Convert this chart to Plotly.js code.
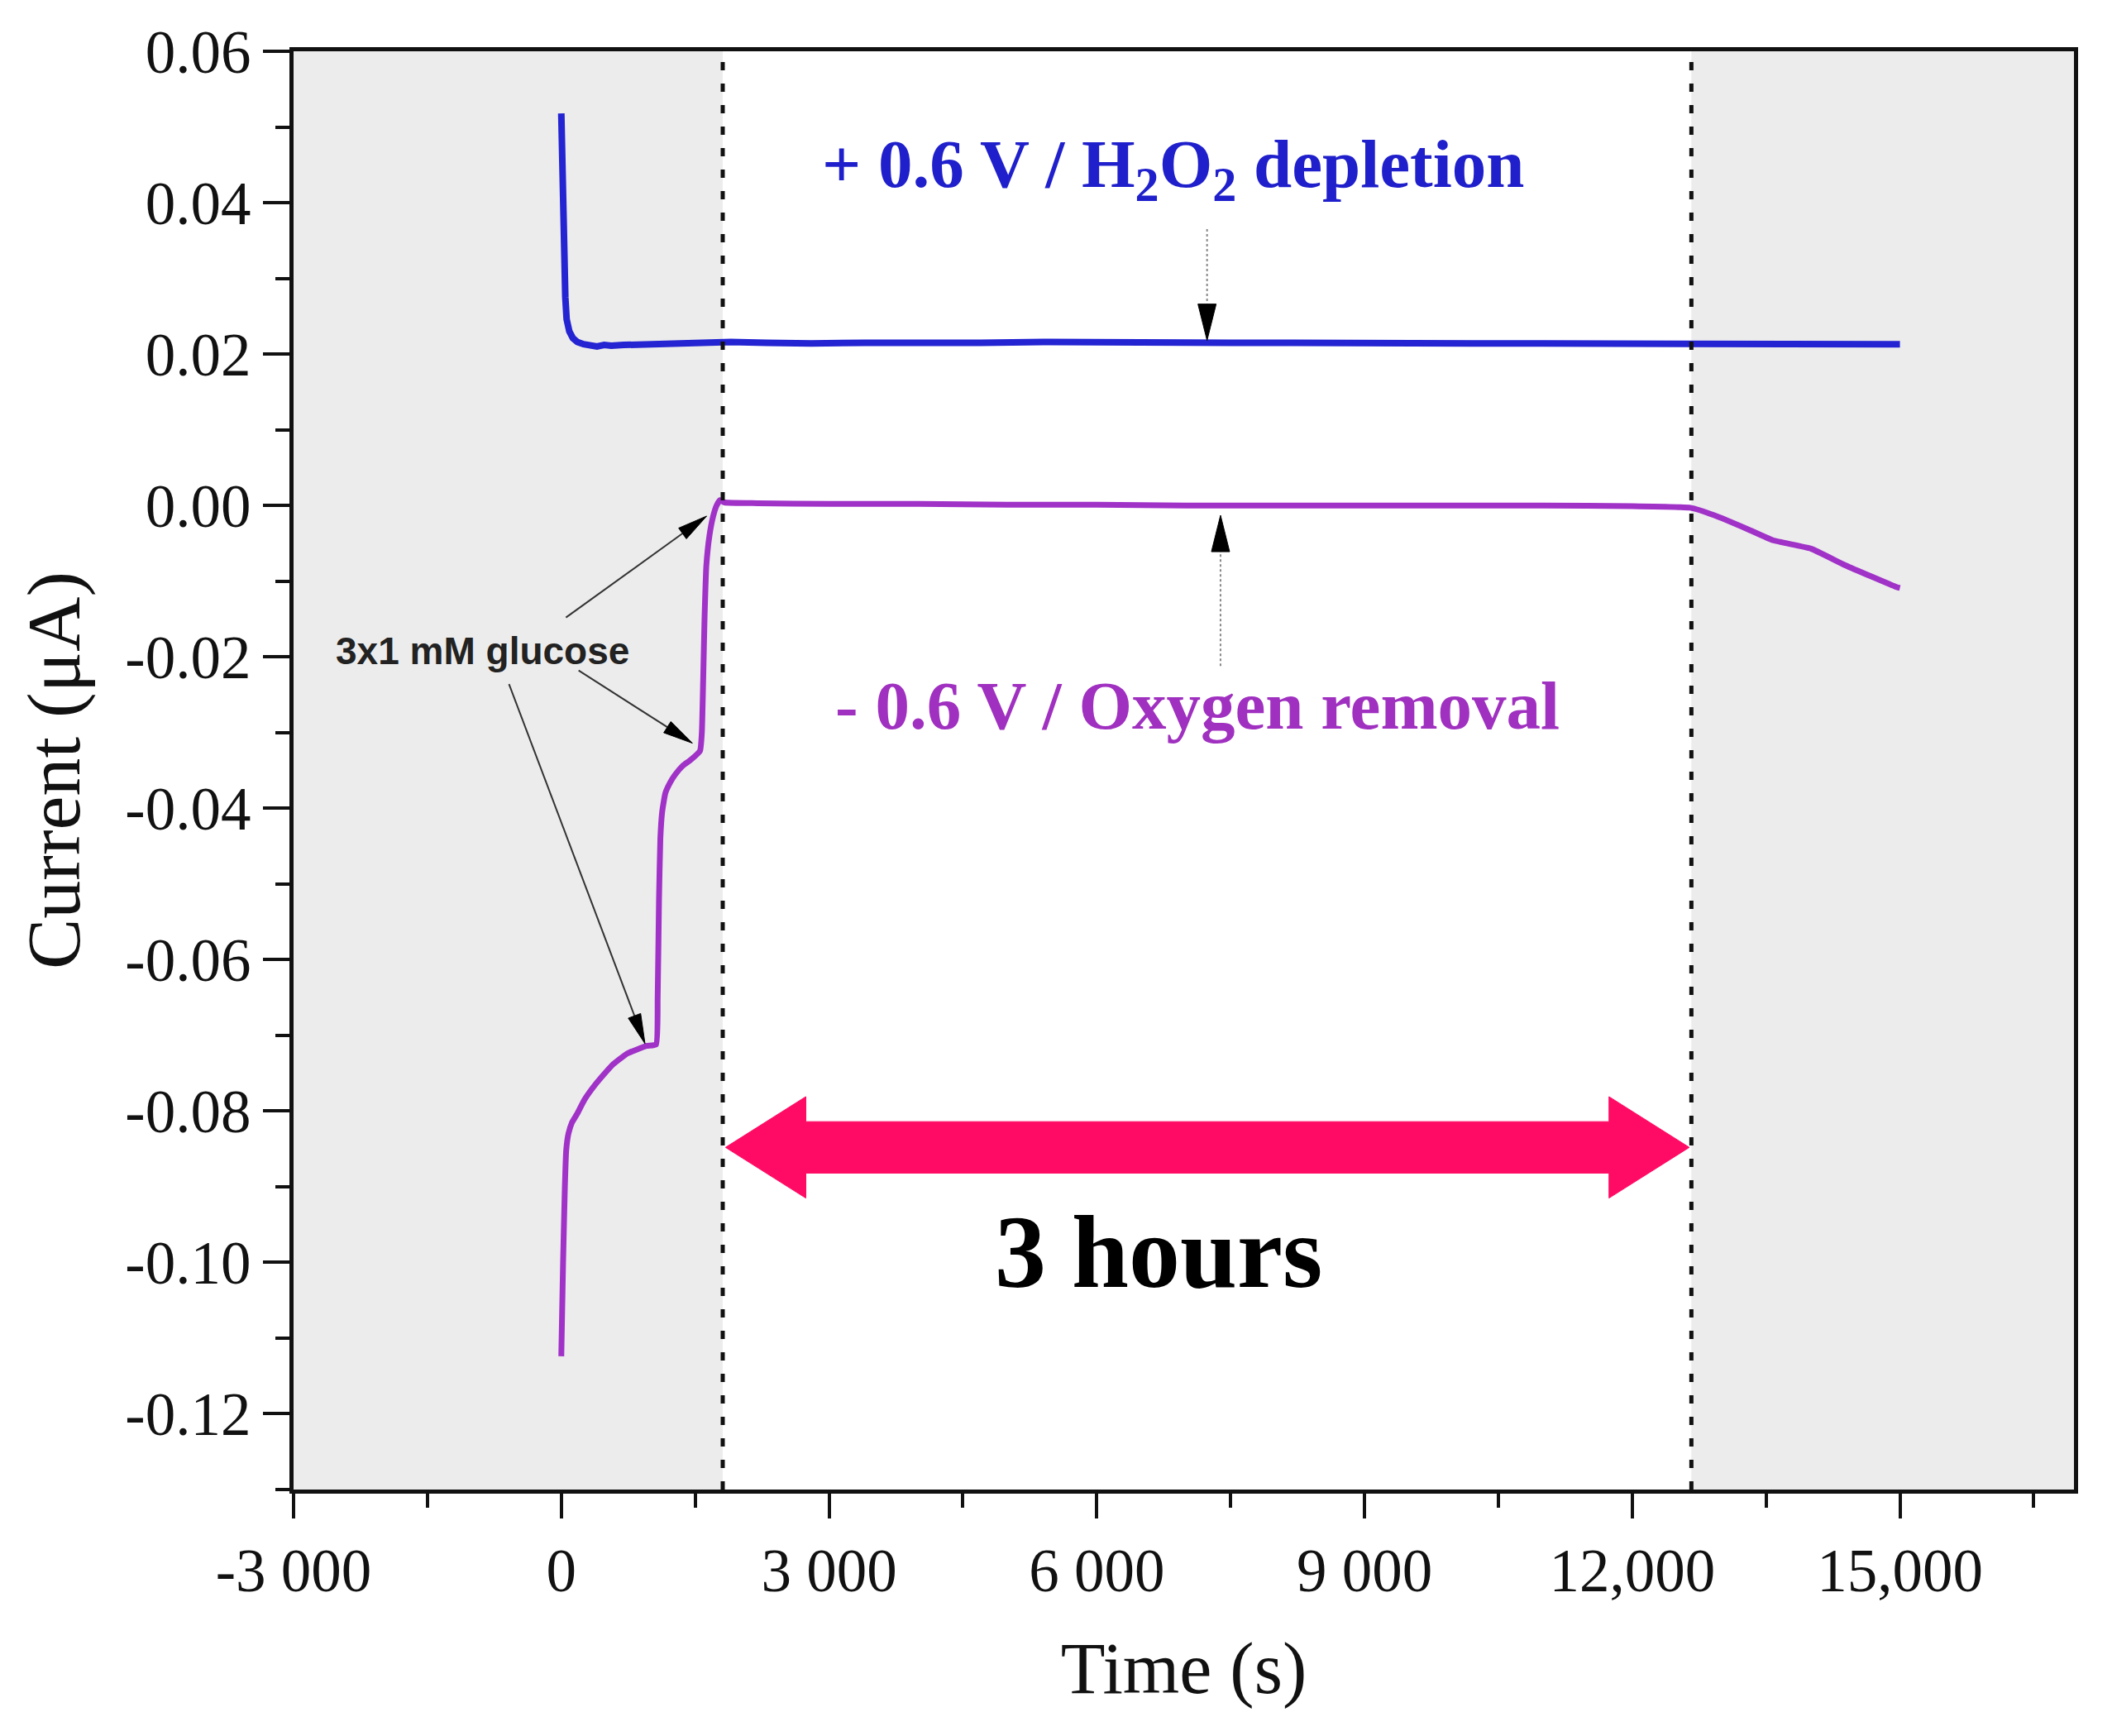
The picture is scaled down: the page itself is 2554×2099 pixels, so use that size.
<!DOCTYPE html>
<html>
<head>
<meta charset="utf-8">
<script src="https://cdn.plot.ly/plotly-3.0.1.min.js"></script>
<style>html,body{margin:0;padding:0;background:#fff;}#chart{width:2554px;height:2099px;}</style>
</head>
<body>
<div id="chart"></div>
<script>
// ---------------- data ----------------
const blueTime = [0, 10, 20, 30, 45, 60, 90, 130, 180, 250, 320, 400, 480, 560, 700, 900, 1100, 1400, 1700, 1900, 2300, 2800, 3400, 4000, 4700, 5400, 6100, 6800, 7500, 8200, 8900, 9600, 10300, 11000, 11700, 12400, 12900, 13500, 14100, 14600, 15000];
const blueCurrent = [0.0518, 0.0450, 0.0385, 0.0325, 0.0275, 0.0246, 0.0230, 0.0221, 0.0216, 0.0213, 0.0211, 0.0210, 0.0212, 0.0211, 0.0212, 0.0213, 0.0212, 0.0214, 0.0215, 0.0216, 0.0215, 0.0214, 0.0215, 0.0214, 0.0215, 0.0216, 0.0215, 0.0214, 0.0215, 0.0215, 0.0214, 0.0215, 0.0214, 0.0214, 0.0214, 0.0213, 0.0214, 0.0213, 0.0213, 0.0212, 0.0213];

const purpleTime = [0, 20, 40, 55, 80, 120, 176, 260, 388, 565, 740, 953, 1062, 1080, 1095, 1110, 1130, 1166, 1220, 1273, 1360, 1451, 1555, 1575, 1590, 1605, 1625, 1660, 1700, 1740, 1780, 1830, 2200, 3000, 4000, 5000, 6000, 7000, 8000, 9000, 10000, 11000, 12000, 12651, 12920, 13307, 13577, 14003, 14388, 14966, 15000];
const purpleCurrent = [-0.1124, -0.1000, -0.0900, -0.0852, -0.0830, -0.0815, -0.0804, -0.0785, -0.0764, -0.0740, -0.0724, -0.0714, -0.0712, -0.0650, -0.0520, -0.0440, -0.0405, -0.0380, -0.0366, -0.0356, -0.0344, -0.0336, -0.0324, -0.0300, -0.0230, -0.0150, -0.0080, -0.0040, -0.0015, 0.0000, 0.0007, 0.0004, 0.0003, 0.0002, 0.0002, 0.0001, 0.0001, 0.0000, 0.0000, 0.0000, 0.0000, 0.0000, -0.0001, -0.0003, -0.0013, -0.0032, -0.0046, -0.0057, -0.0079, -0.0108, -0.0109];

const xTickVals = [-3000, 0, 3000, 6000, 9000, 12000, 15000];
const xTickText = ['-3 000', '0', '3 000', '6 000', '9 000', '12,000', '15,000'];
const xMinorVals = [-1500, 1500, 4500, 7500, 10500, 13500, 16500];
const yTickVals = [0.06, 0.04, 0.02, 0.00, -0.02, -0.04, -0.06, -0.08, -0.10, -0.12];
const yTickText = ['0.06', '0.04', '0.02', '0.00', '-0.02', '-0.04', '-0.06', '-0.08', '-0.10', '-0.12'];
const yMinorVals = [0.05, 0.03, 0.01, -0.01, -0.03, -0.05, -0.07, -0.09, -0.11, -0.13];

// window of the 3-hour measurement (s)
const windowStart = 1809;
const windowEnd = 12663;
// ---------------- geometry ----------------
const W = 2554, H = 2099;
const M = {l: 355, r: 46, t: 62, b: 298};
const XR = [-3000, 16950], YR = [-0.13, 0.06];
const pxX = (W - M.l - M.r) / (XR[1] - XR[0]);
const pxY = (H - M.t - M.b) / (YR[1] - YR[0]);

function arrow(x0, y0, x1, y1, headLen, headW, color, lw, dash) {
  const dx = (x1 - x0) * pxX, dy = (y1 - y0) * pxY;
  const L = Math.hypot(dx, dy), ux = dx / L, uy = dy / L;
  const nx = -uy, ny = ux;
  const bx = x1 - ux * headLen / pxX, by = y1 - uy * headLen / pxY;
  const p1x = bx + nx * headW / 2 / pxX, p1y = by + ny * headW / 2 / pxY;
  const p2x = bx - nx * headW / 2 / pxX, p2y = by - ny * headW / 2 / pxY;
  return [
    {type: 'line', xref: 'x', yref: 'y', x0: x0, y0: y0, x1: bx, y1: by,
     line: {color: color, width: lw, dash: dash || 'solid'}, layer: 'above'},
    {type: 'path', xref: 'x', yref: 'y',
     path: `M${x1},${y1} L${p1x},${p1y} L${p2x},${p2y} Z`,
     fillcolor: '#000', line: {color: '#000', width: 1}, layer: 'above'}
  ];
}

// pink double arrow
const bigArrow = {left: 1840, right: 12640, y: -0.0848, head: 900, body: 0.0034, headHalf: 0.0067};
const ba = bigArrow;
const bigPath = `M${ba.left},${ba.y} L${ba.left + ba.head},${ba.y + ba.headHalf} L${ba.left + ba.head},${ba.y + ba.body} ` +
  `L${ba.right - ba.head},${ba.y + ba.body} L${ba.right - ba.head},${ba.y + ba.headHalf} L${ba.right},${ba.y} ` +
  `L${ba.right - ba.head},${ba.y - ba.headHalf} L${ba.right - ba.head},${ba.y - ba.body} L${ba.left + ba.head},${ba.y - ba.body} ` +
  `L${ba.left + ba.head},${ba.y - ba.headHalf} Z`;

const shapes = [
  {type: 'rect', xref: 'x', yref: 'paper', x0: XR[0], x1: windowStart, y0: 0, y1: 1, fillcolor: '#ececec', line: {width: 0}, layer: 'below'},
  {type: 'rect', xref: 'x', yref: 'paper', x0: windowEnd, x1: XR[1], y0: 0, y1: 1, fillcolor: '#ececec', line: {width: 0}, layer: 'below'},
  {type: 'line', xref: 'x', yref: 'paper', x0: windowStart, x1: windowStart, y0: 0, y1: 1, line: {color: '#111', width: 5, dash: '10px,16px'}, layer: 'above'},
  {type: 'line', xref: 'x', yref: 'paper', x0: windowEnd, x1: windowEnd, y0: 0, y1: 1, line: {color: '#111', width: 5, dash: '10px,16px'}, layer: 'above'},
  {type: 'path', xref: 'x', yref: 'y', path: bigPath, fillcolor: '#ff0a64', line: {color: '#ff0a64', width: 1}, layer: 'above'}
];
// glucose arrows
shapes.push(...arrow(52, -0.0148, 1629, -0.0014, 36, 16, '#333', 2));
shapes.push(...arrow(194, -0.0218, 1469, -0.0314, 36, 16, '#333', 2));
shapes.push(...arrow(-586, -0.0236, 938, -0.0711, 36, 16, '#333', 2));
// blue and purple pointer arrows (dotted shafts)
shapes.push(...arrow(7236, 0.0365, 7236, 0.0218, 44, 22, '#888', 2, 'dot'));
shapes.push(...arrow(7387, -0.0212, 7387, -0.0013, 44, 22, '#888', 2, 'dot'));

const serif = 'Liberation Serif, Times New Roman, serif';
const annotations = [
  {x: 6850, y: 0.0445, xref: 'x', yref: 'y', showarrow: false,
   text: '<b>+ 0.6 V / H<sub>2</sub>O<sub>2</sub> depletion</b>',
   font: {family: serif, size: 83, color: '#1f1fcc'}},
  {x: 7130, y: -0.0264, xref: 'x', yref: 'y', showarrow: false,
   text: '<b>- 0.6 V / Oxygen removal</b>',
   font: {family: serif, size: 83, color: '#a030c0'}},
  {x: -880, y: -0.0192, xref: 'x', yref: 'y', showarrow: false,
   text: '<b>3x1 mM glucose</b>',
   font: {family: 'Liberation Sans, Arial, sans-serif', size: 46, color: '#222'}},
  {x: 6690, y: -0.0987, xref: 'x', yref: 'y', showarrow: false,
   text: '<b>3 hours</b>',
   font: {family: serif, size: 124, color: '#000'}}
];

const traces = [
  {x: blueTime, y: blueCurrent, type: 'scatter', mode: 'lines', line: {color: '#2424d2', width: 8}, hoverinfo: 'skip', name: '+0.6 V'},
  {x: purpleTime, y: purpleCurrent, type: 'scatter', mode: 'lines', line: {color: '#a032c8', width: 7, shape: 'spline', smoothing: 0.4}, hoverinfo: 'skip', name: '-0.6 V'}
];

const tickFont = {family: serif, size: 73, color: '#111'};
const layout = {
  width: W, height: H,
  margin: M,
  paper_bgcolor: '#fff', plot_bgcolor: '#fff',
  showlegend: false,
  xaxis: {
    range: XR, showgrid: false, zeroline: false,
    showline: true, linecolor: '#111', linewidth: 5, mirror: true,
    ticks: 'outside', ticklen: 30, tickwidth: 4, tickcolor: '#111',
    tickmode: 'array', tickvals: xTickVals, ticktext: xTickText, tickfont: tickFont,
    minor: {tickmode: 'array', tickvals: xMinorVals, ticks: 'outside', ticklen: 17, tickwidth: 4, tickcolor: '#111', showgrid: false},
    title: {text: 'Time (s)', font: {family: serif, size: 88, color: '#111'}, standoff: 48},
    automargin: false
  },
  yaxis: {
    range: YR, showgrid: false, zeroline: false,
    showline: true, linecolor: '#111', linewidth: 5, mirror: true,
    ticks: 'outside', ticklen: 32, tickwidth: 4, tickcolor: '#111',
    tickmode: 'array', tickvals: yTickVals, ticktext: yTickText, tickfont: tickFont,
    minor: {tickmode: 'array', tickvals: yMinorVals, ticks: 'outside', ticklen: 17, tickwidth: 4, tickcolor: '#111', showgrid: false},
    title: {text: 'Current (μA)', font: {family: serif, size: 92, color: '#111'}, standoff: 26},
    automargin: false
  },
  shapes: shapes,
  annotations: annotations
};

Plotly.newPlot('chart', traces, layout, {staticPlot: true, displayModeBar: false});
</script>
</body>
</html>
